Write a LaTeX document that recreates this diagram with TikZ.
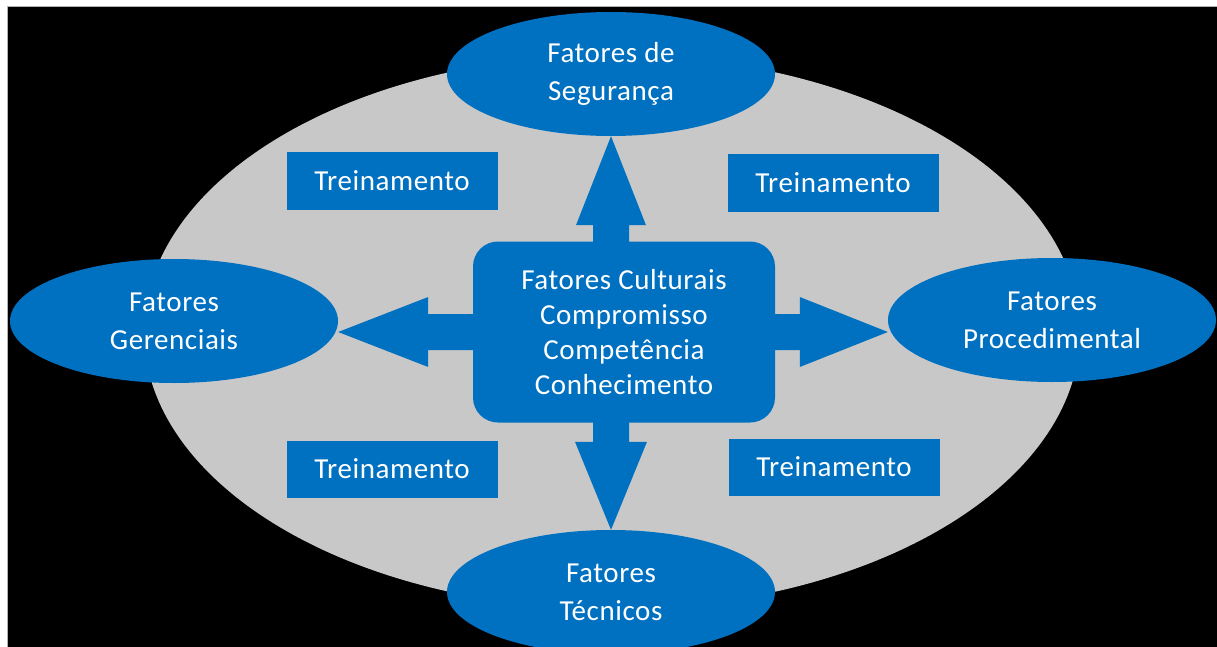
\documentclass[tikz,border=0pt]{standalone}
\usepackage{fontspec}
\setmainfont{Carlito}[LetterSpace=2]
\usetikzlibrary{shapes.geometric,calc}
\definecolor{bluefill}{RGB}{0,112,192}
\definecolor{greyfill}{RGB}{200,200,200}
\begin{document}
\begin{tikzpicture}[x=1pt,y=-1pt,
  every node/.style={text=white, font=\fontsize{29}{38}\selectfont, align=center, inner sep=0pt},
  oval/.style={ellipse, fill=bluefill, minimum width=328pt, minimum height=124pt},
  core/.style={rectangle, rounded corners=25pt, fill=bluefill, minimum width=302pt, minimum height=181pt, font=\fontsize{29}{35}\selectfont},
  trainbox/.style={rectangle, fill=bluefill, minimum width=211pt, minimum height=57pt},
  blockarrow/.style={fill=bluefill}]
\clip (0,0) rectangle (1217,647);
\fill[white] (0,0) rectangle (1217,647);
\fill[black] (7,7) rectangle (1217,647);
\draw[gray!60, line width=1pt] (7,647) -- (7,6.5) -- (1217,6.5);
\node[ellipse, fill=greyfill, minimum width=936pt, minimum height=554pt] (bg) at (612,332) {};

\node[oval] (top) at (611,74) {Fatores de\\Segurança};
\node[oval] (left) at (174,321) {Fatores\\Gerenciais};
\node[oval] (right) at (1052,320) {Fatores\\Procedimental};
\node[oval] (bot) at (611,592) {Fatores\\Técnicos};
\node[core] (c) at (624,332) {Fatores Culturais\\Compromisso\\Competência\\Conhecimento};

\node[trainbox] (t1) at (392,181) {Treinamento};
\node[trainbox] (t2) at (833,183) {Treinamento};
\node[trainbox] (t3) at (392,469) {Treinamento};
\node[trainbox] (t4) at (834,467) {Treinamento};

% up arrow
\coordinate (ut) at (top.south);
\coordinate (ub) at (top.south |- c.north);
\fill[blockarrow] ($(ub)+(-18,4)$) -- ($(ut)+(-18,89)$) -- ($(ut)+(-35,89)$) -- (ut)
  -- ($(ut)+(35,89)$) -- ($(ut)+(18,89)$) -- ($(ub)+(18,4)$) -- cycle;
% down arrow
\coordinate (dt) at (bot.north);
\coordinate (db) at (bot.north |- c.south);
\fill[blockarrow] ($(db)+(-18,-4)$) -- ($(dt)+(-18,-88)$) -- ($(dt)+(-36,-88)$) -- (dt)
  -- ($(dt)+(36,-88)$) -- ($(dt)+(18,-88)$) -- ($(db)+(18,-4)$) -- cycle;
% left arrow
\coordinate (lt) at (left.east |- c.center);
\coordinate (lb) at (c.west);
\fill[blockarrow] ($(lb)+(4,-18)$) -- ($(lt)+(90,-18)$) -- ($(lt)+(90,-35)$) -- (lt)
  -- ($(lt)+(90,35)$) -- ($(lt)+(90,18)$) -- ($(lb)+(4,18)$) -- cycle;
% right arrow
\coordinate (rt) at (right.west |- c.center);
\coordinate (rb) at (c.east);
\fill[blockarrow] ($(rb)+(-4,-18)$) -- ($(rt)+(-88,-18)$) -- ($(rt)+(-88,-35)$) -- (rt)
  -- ($(rt)+(-88,35)$) -- ($(rt)+(-88,18)$) -- ($(rb)+(-4,18)$) -- cycle;
\end{tikzpicture}
\end{document}
